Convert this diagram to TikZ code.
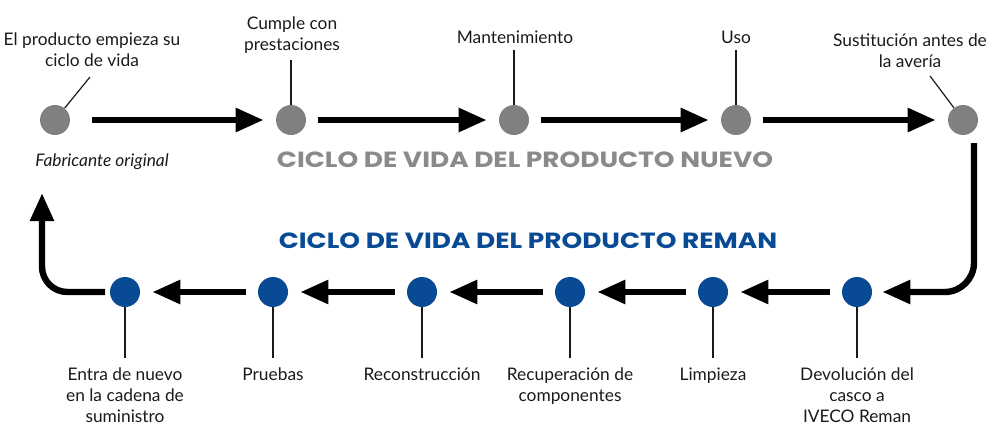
\documentclass[tikz,border=0pt]{standalone}
\usepackage{fontspec}
\setmainfont{Lato}
\newfontfamily\ttlfont{Poppins}
\usetikzlibrary{arrows.meta}
\definecolor{dotgray}{RGB}{128,128,128}
\definecolor{titlegray}{RGB}{138,138,138}
\definecolor{remanblue}{RGB}{8,74,148}
\definecolor{txt}{RGB}{26,26,26}
\begin{document}
\begin{tikzpicture}[x=0.75pt,y=-0.75pt,
 gdot/.style={circle,fill=dotgray,minimum size=22.5pt,inner sep=0},
 bdot/.style={circle,fill=remanblue,minimum size=22.5pt,inner sep=0},
 arr/.style={line width=4.8pt,-{Triangle[length=21pt,width=17pt]},shorten <=8.5pt,shorten >=9pt},
 lead/.style={line width=0.9pt,draw=txt},
 lbl/.style={font=\fontsize{13}{15.75}\selectfont,text=txt,align=center,anchor=base,inner sep=0},
 ttl/.style={font=\fontsize{16.5}{19}\selectfont\ttlfont\bfseries,anchor=base,inner sep=0}]
\useasboundingbox (0,0) rectangle (998,425);
% top row
\node[gdot] (t1) at (55,120) {};
\node[gdot] (t2) at (291,120) {};
\node[gdot] (t3) at (514,120) {};
\node[gdot] (t4) at (736,120) {};
\node[gdot] (t5) at (963,120) {};
% bottom row
\node[bdot] (b1) at (125,292) {};
\node[bdot] (b2) at (273,292) {};
\node[bdot] (b3) at (422,292) {};
\node[bdot] (b4) at (570,292) {};
\node[bdot] (b5) at (713,292) {};
\node[bdot] (b6) at (857,292) {};
% top labels (anchor = baseline of last line)
\node[lbl] (L1) at (92,66) {El producto empieza su\\ciclo de vida};
\node[lbl] (L2) at (292,50) {Cumple con\\prestaciones};
\node[lbl] (L3) at (515,43) {Mantenimiento};
\node[lbl] (L4) at (736,43) {Uso};
\node[lbl] (L5) at (910,67) {Sustitución antes de\\la avería};
\node[lbl,font=\fontsize{13}{15.75}\selectfont\itshape] (F) at (102,166) {Fabricante original};
% bottom labels
\node[lbl] (B1) at (125,422) {Entra de nuevo\\en la cadena de\\suministro};
\node[lbl] (B2) at (273,380) {Pruebas};
\node[lbl] (B3) at (422,380) {Reconstrucción};
\node[lbl] (B4) at (570,401) {Recuperación de\\componentes};
\node[lbl] (B5) at (713,380) {Limpieza};
\node[lbl] (B6) at (857,422) {Devolución del\\casco a\\IVECO Reman};
% titles
\node[ttl,text=titlegray] (T1) at (525,167) {\scalebox{1.2}[1]{CICLO DE VIDA DEL PRODUCTO NUEVO}};
\node[ttl,text=remanblue] (T2) at (528,248) {\scalebox{1.2}[1]{CICLO DE VIDA DEL PRODUCTO REMAN}};
% leader coordinates
\coordinate (c1) at (90,77);
\coordinate (p2) at (291,60);
\coordinate (p3) at (514,50);
\coordinate (p4) at (736,50);
\coordinate (c5) at (930,76);
\coordinate (q1) at (125,358);
\coordinate (q2) at (273,358);
\coordinate (q3) at (422,358);
\coordinate (q4) at (570,358);
\coordinate (q5) at (713,358);
\coordinate (q6) at (857,358);
\draw[lead] (t1) -- (c1);
\draw[lead] (t2) -- (p2);
\draw[lead] (t3) -- (p3);
\draw[lead] (t4) -- (p4);
\draw[lead] (t5) -- (c5);
\foreach \i in {1,...,6} \draw[lead] (b\i) -- (q\i);
% arrows top
\draw[arr,shorten <=16.5pt] (t1) -- (t2);
\draw[arr] (t2) -- (t3);
\draw[arr] (t3) -- (t4);
\draw[arr] (t4) -- (t5);
% arrows bottom
\draw[arr] (b6) -- (b5);
\draw[arr] (b5) -- (b4);
\draw[arr] (b4) -- (b3);
\draw[arr] (b3) -- (b2);
\draw[arr] (b2) -- (b1);
% connectors between rows
\coordinate (r1) at (974,143);
\coordinate (l1) at (42,193);
\draw[arr,shorten <=0pt,shorten >=7.5pt,rounded corners=22pt] (r1) |- (b6);
\draw[arr,shorten <=3.5pt,shorten >=0pt,rounded corners=19pt] (b1) -| (l1);
\end{tikzpicture}
\end{document}
